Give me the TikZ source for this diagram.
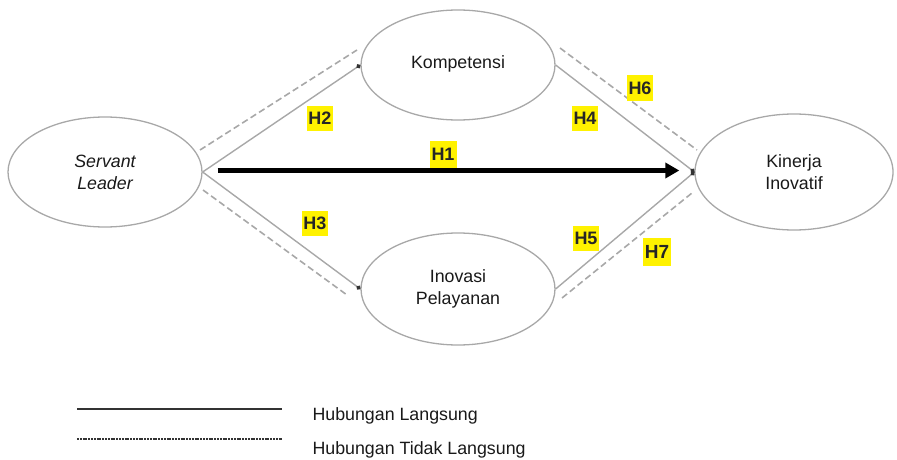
\documentclass[tikz,border=0pt]{standalone}
\usepackage{fontspec}
\setmainfont{Liberation Sans}
\usetikzlibrary{arrows.meta,shapes.geometric}
\definecolor{edgegray}{HTML}{A8A8A8}
\definecolor{hlyellow}{HTML}{FFF200}
\begin{document}
\begin{tikzpicture}[x=1pt,y=-1pt,
  latent/.style={draw=edgegray, line width=1.3pt, ellipse, align=center,
    font=\fontsize{17.8}{22}\selectfont, inner sep=0pt, text=black!90},
  direct/.style={draw=edgegray, line width=1.4pt, -{Circle[length=4.5pt,fill=black!80,color=black!80]}},
  indirect/.style={draw=edgegray, line width=1.6pt, dash pattern=on 6.5pt off 3.5pt},
  hlabel/.style={fill=hlyellow, font=\fontsize{18}{18}\bfseries\selectfont, inner sep=0.5pt,
    minimum height=25pt, minimum width=26pt, text=black!85},
  mainarrow/.style={draw=black, line width=4.5pt, -{Triangle[length=14pt,width=15pt]},
    shorten <=15pt, shorten >=15pt},
  legtext/.style={anchor=base west, font=\fontsize{17.8}{17.8}\selectfont, text=black!90}
]
\useasboundingbox (0,0) rectangle (897,460);

% latent variables
\node[latent, minimum width=194pt, minimum height=110pt] (sl) at (105,172) {\itshape Servant\\\itshape Leader};
\node[latent, minimum width=194pt, minimum height=110pt] (ko) at (458,65) {\raisebox{6pt}{Kompetensi}};
\node[latent, minimum width=194pt, minimum height=112pt] (ip) at (458,289) {Inovasi\\Pelayanan};
\node[latent, minimum width=198pt, minimum height=116pt] (ki) at (794,172) {Kinerja\\Inovatif};

% direct gray paths
\draw[direct] (sl.east) -- (ko.west);
\draw[direct] (sl.east) -- (ip.west);
\draw[direct] (ko.east) -- (ki.west);
\draw[direct] (ip.east) -- (ki.west);

% indirect dashed paths
\coordinate (d1a) at (200,150); \coordinate (d1b) at (357,50);
\coordinate (d2a) at (203,190); \coordinate (d2b) at (347,295);
\coordinate (d3a) at (560,48);  \coordinate (d3b) at (697,150);
\coordinate (d4a) at (562,298); \coordinate (d4b) at (692,193);
\draw[indirect] (d1a) -- (d1b);
\draw[indirect] (d2a) -- (d2b);
\draw[indirect] (d3a) -- (d3b);
\draw[indirect] (d4a) -- (d4b);

% main direct effect
\draw[mainarrow] ([yshift=1.5pt]sl.east) -- ([yshift=1.5pt]ki.west);

% hypothesis labels
\node[hlabel, minimum height=27pt, minimum width=27pt] (h1) at (443,154) {H1};
\node[hlabel] (h2) at (320,118) {H2};
\node[hlabel] (h3) at (315,223) {H3};
\node[hlabel] (h4) at (585,118) {H4};
\node[hlabel] (h5) at (586,238) {H5};
\node[hlabel] (h6) at (640,88) {H6};
\node[hlabel, font=\fontsize{19}{19}\bfseries\selectfont, minimum height=28pt, minimum width=28pt] (h7) at (657,252) {H7};

% legend
\coordinate (l1a) at (77,409); \coordinate (l1b) at (282,409);
\coordinate (l2a) at (77,439); \coordinate (l2b) at (282,439);
\draw[black!80, line width=1.8pt] (l1a) -- (l1b);
\draw[black!80, line width=1.3pt, dash pattern=on 2pt off 0.8pt] (l2a) -- (l2b);
\node[legtext] (lt1) at (309,420) {Hubungan Langsung};
\node[legtext] (lt2) at (309,454) {Hubungan Tidak Langsung};
\end{tikzpicture}
\end{document}
